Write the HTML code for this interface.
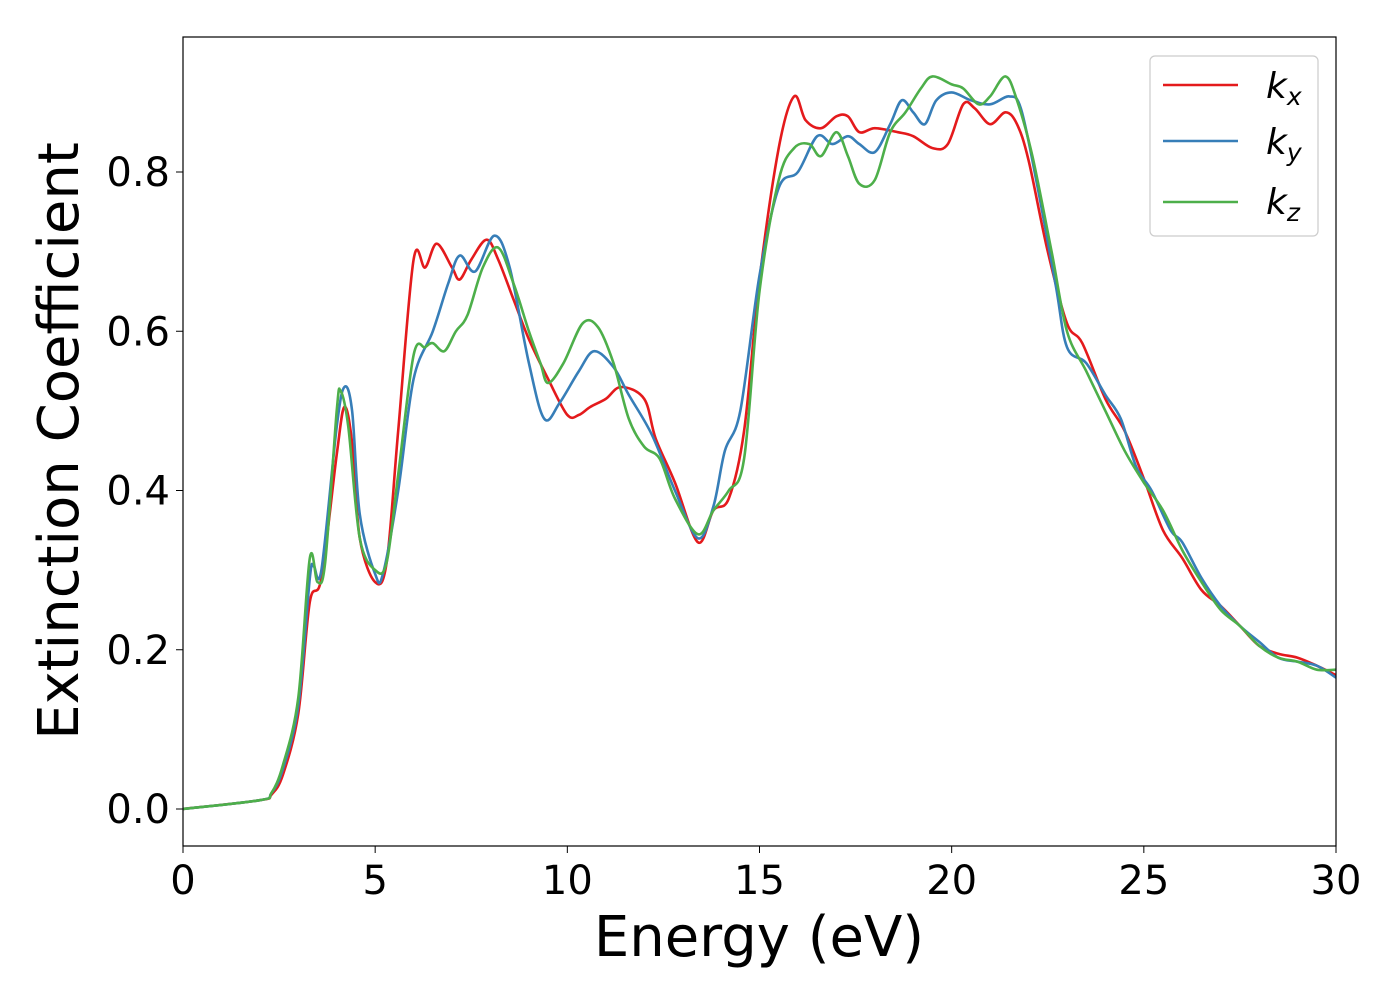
<!DOCTYPE html>
<html><head><meta charset="utf-8"><style>
body{margin:0;background:#fff}
svg text{font-family:"DejaVu Sans","Liberation Sans",sans-serif;fill:#000}
</style></head><body>
<svg id="chart" width="1400" height="1000" xmlns="http://www.w3.org/2000/svg">
<rect x="0" y="0" width="1400" height="1000" fill="#fff"/>
<g id="series"></g>
<rect x="183" y="37" width="1153" height="809" fill="none" stroke="#000" stroke-width="1.2"/>
<g id="xticks"></g>
<g id="yticks"></g>
<text x="759" y="956" font-size="56" text-anchor="middle">Energy (eV)</text>
<text transform="translate(78,441) rotate(-90)" font-size="56" text-anchor="middle">Extinction Coefficient</text>
<g>
<rect x="1150" y="56" width="168" height="180" rx="5" fill="#fff" stroke="#ccc" stroke-width="1.2"/>
<line x1="1163" y1="85" x2="1238" y2="85" stroke="#e41a1c" stroke-width="2.6"/>
<text x="1266" y="98" font-size="36" font-style="italic">k<tspan font-size="25" dy="7">x</tspan></text>
<line x1="1163" y1="141" x2="1238" y2="141" stroke="#377eb8" stroke-width="2.6"/>
<text x="1266" y="154" font-size="36" font-style="italic">k<tspan font-size="25" dy="7">y</tspan></text>
<line x1="1163" y1="202" x2="1238" y2="202" stroke="#4daf4a" stroke-width="2.6"/>
<text x="1266" y="214" font-size="36" font-style="italic">k<tspan font-size="25" dy="7">z</tspan></text>
</g>
</svg>
<script>
const xTicks=[0,5,10,15,20,25,30];
const yTicks=[0.0,0.2,0.4,0.6,0.8];
const yTickLabels=["0.0","0.2","0.4","0.6","0.8"];
const kxE=[0,2,2.3,2.6,3.0,3.3,3.6,4.0,4.2,4.4,4.6,5.0,5.3,5.6,6.0,6.3,6.6,7.0,7.2,7.5,7.9,8.2,8.6,9.0,9.5,10.0,10.3,10.6,11.0,11.4,12.0,12.3,12.8,13.4,13.8,14.2,14.6,15.0,15.5,15.9,16.2,16.6,17.0,17.3,17.6,18.0,18.6,19.0,19.5,19.9,20.3,20.6,21.0,21.4,21.7,22.0,22.5,23.0,23.4,24.0,24.5,25.0,25.5,26.0,26.5,27.0,27.5,28.0,28.5,29.0,29.5,30];
const kxV=[0,0.011,0.018,0.043,0.12,0.26,0.29,0.445,0.505,0.46,0.34,0.285,0.31,0.475,0.69,0.68,0.71,0.68,0.665,0.69,0.715,0.69,0.64,0.59,0.54,0.495,0.495,0.505,0.515,0.53,0.515,0.465,0.41,0.335,0.375,0.39,0.475,0.665,0.83,0.895,0.865,0.855,0.87,0.87,0.85,0.855,0.85,0.845,0.83,0.835,0.885,0.88,0.86,0.875,0.86,0.815,0.7,0.61,0.585,0.515,0.475,0.415,0.35,0.315,0.275,0.255,0.23,0.205,0.195,0.19,0.18,0.168];
const kyE=[0,2,2.3,2.6,3.0,3.3,3.4,3.6,4.0,4.2,4.4,4.6,5.0,5.2,5.6,6.0,6.5,6.9,7.2,7.6,8.1,8.5,9.0,9.4,9.8,10.3,10.7,11.2,11.6,12.2,12.8,13.4,13.8,14.1,14.5,15.0,15.5,16.0,16.5,16.9,17.3,17.6,18.0,18.4,18.7,19.0,19.3,19.6,20.0,20.5,21.0,21.5,21.8,22.2,22.7,23.0,23.5,24.0,24.4,24.8,25.2,25.7,26.0,26.5,27.0,27.5,28.0,28.5,29.0,29.5,30];
const kyV=[0,0.011,0.02,0.05,0.13,0.29,0.305,0.3,0.48,0.53,0.5,0.37,0.295,0.295,0.4,0.54,0.6,0.66,0.695,0.675,0.72,0.68,0.56,0.49,0.51,0.55,0.575,0.555,0.52,0.47,0.4,0.34,0.38,0.45,0.5,0.67,0.78,0.8,0.845,0.835,0.845,0.835,0.825,0.86,0.89,0.875,0.86,0.89,0.9,0.89,0.885,0.895,0.88,0.79,0.66,0.58,0.56,0.52,0.49,0.43,0.4,0.35,0.335,0.29,0.255,0.23,0.21,0.19,0.185,0.18,0.165];
const kzE=[0,2,2.3,2.6,3.0,3.3,3.5,3.7,4.0,4.1,4.3,4.6,5.0,5.3,5.6,6.0,6.3,6.5,6.8,7.1,7.4,7.8,8.2,8.6,9.0,9.3,9.5,9.9,10.4,10.8,11.2,11.6,12.0,12.4,12.8,13.4,13.8,14.2,14.6,15.0,15.5,15.9,16.3,16.6,17.0,17.3,17.6,18.0,18.4,18.8,19.2,19.5,20.0,20.3,20.7,21.0,21.4,21.7,22.1,22.6,23.0,23.5,24.0,24.5,25.0,25.5,26.0,26.5,27.0,27.5,28.0,28.5,29.0,29.5,30];
const kzV=[0,0.011,0.02,0.055,0.14,0.315,0.285,0.31,0.5,0.525,0.48,0.34,0.3,0.31,0.42,0.57,0.58,0.585,0.575,0.6,0.62,0.68,0.705,0.66,0.6,0.56,0.535,0.56,0.61,0.605,0.56,0.49,0.455,0.44,0.39,0.345,0.375,0.4,0.44,0.65,0.79,0.83,0.835,0.82,0.85,0.82,0.785,0.79,0.85,0.875,0.905,0.92,0.91,0.905,0.885,0.895,0.92,0.89,0.82,0.7,0.6,0.55,0.5,0.45,0.41,0.375,0.325,0.285,0.25,0.23,0.205,0.19,0.185,0.175,0.175];
const NS="http://www.w3.org/2000/svg";
function X(v){return 183+(v-0)/30*1153;}
function Y(v){return 809-v*796.25;}
function pathFor(E,V){
  const p=E.map((e,i)=>[X(e),Y(V[i])]);
  let d="M"+p[0][0].toFixed(1)+","+p[0][1].toFixed(1);
  for(let i=0;i<p.length-1;i++){
    const p0=p[Math.max(0,i-1)],p1=p[i],p2=p[i+1],p3=p[Math.min(p.length-1,i+2)];
    const c1x=p1[0]+(p2[0]-p0[0])/6,c1y=p1[1]+(p2[1]-p0[1])/6;
    const c2x=p2[0]-(p3[0]-p1[0])/6,c2y=p2[1]-(p3[1]-p1[1])/6;
    d+="C"+c1x.toFixed(1)+","+c1y.toFixed(1)+" "+c2x.toFixed(1)+","+c2y.toFixed(1)+" "+p2[0].toFixed(1)+","+p2[1].toFixed(1);
  }
  return d;
}
const g=document.getElementById("series");
[[kxE,kxV,"#e41a1c","kx"],[kyE,kyV,"#377eb8","ky"],[kzE,kzV,"#4daf4a","kz"]].forEach(s=>{
  const el=document.createElementNS(NS,"path");
  el.setAttribute("d",pathFor(s[0],s[1]));
  el.setAttribute("fill","none");el.setAttribute("stroke",s[2]);el.setAttribute("stroke-width","2.6");
  
  
  g.appendChild(el);
});
const xt=document.getElementById("xticks");
xTicks.forEach(t=>{
  const l=document.createElementNS(NS,"line");
  l.setAttribute("x1",X(t));l.setAttribute("x2",X(t));l.setAttribute("y1",846);l.setAttribute("y2",853);l.setAttribute("stroke","#000");
  
  
  xt.appendChild(l);
  const tx=document.createElementNS(NS,"text");
  tx.setAttribute("x",X(t));tx.setAttribute("y",894);tx.setAttribute("font-size","40");tx.setAttribute("text-anchor","middle");
  tx.textContent=t;
  
  
  xt.appendChild(tx);
});
const yt=document.getElementById("yticks");
yTicks.forEach((t,i)=>{
  const l=document.createElementNS(NS,"line");
  l.setAttribute("x1",176);l.setAttribute("x2",183);l.setAttribute("y1",Y(t));l.setAttribute("y2",Y(t));l.setAttribute("stroke","#000");
  
  
  yt.appendChild(l);
  const tx=document.createElementNS(NS,"text");
  tx.setAttribute("x",170);tx.setAttribute("y",Y(t)+14);tx.setAttribute("font-size","40");tx.setAttribute("text-anchor","end");
  tx.textContent=yTickLabels[i];
  
  
  yt.appendChild(tx);
});
</script>
</body></html>
